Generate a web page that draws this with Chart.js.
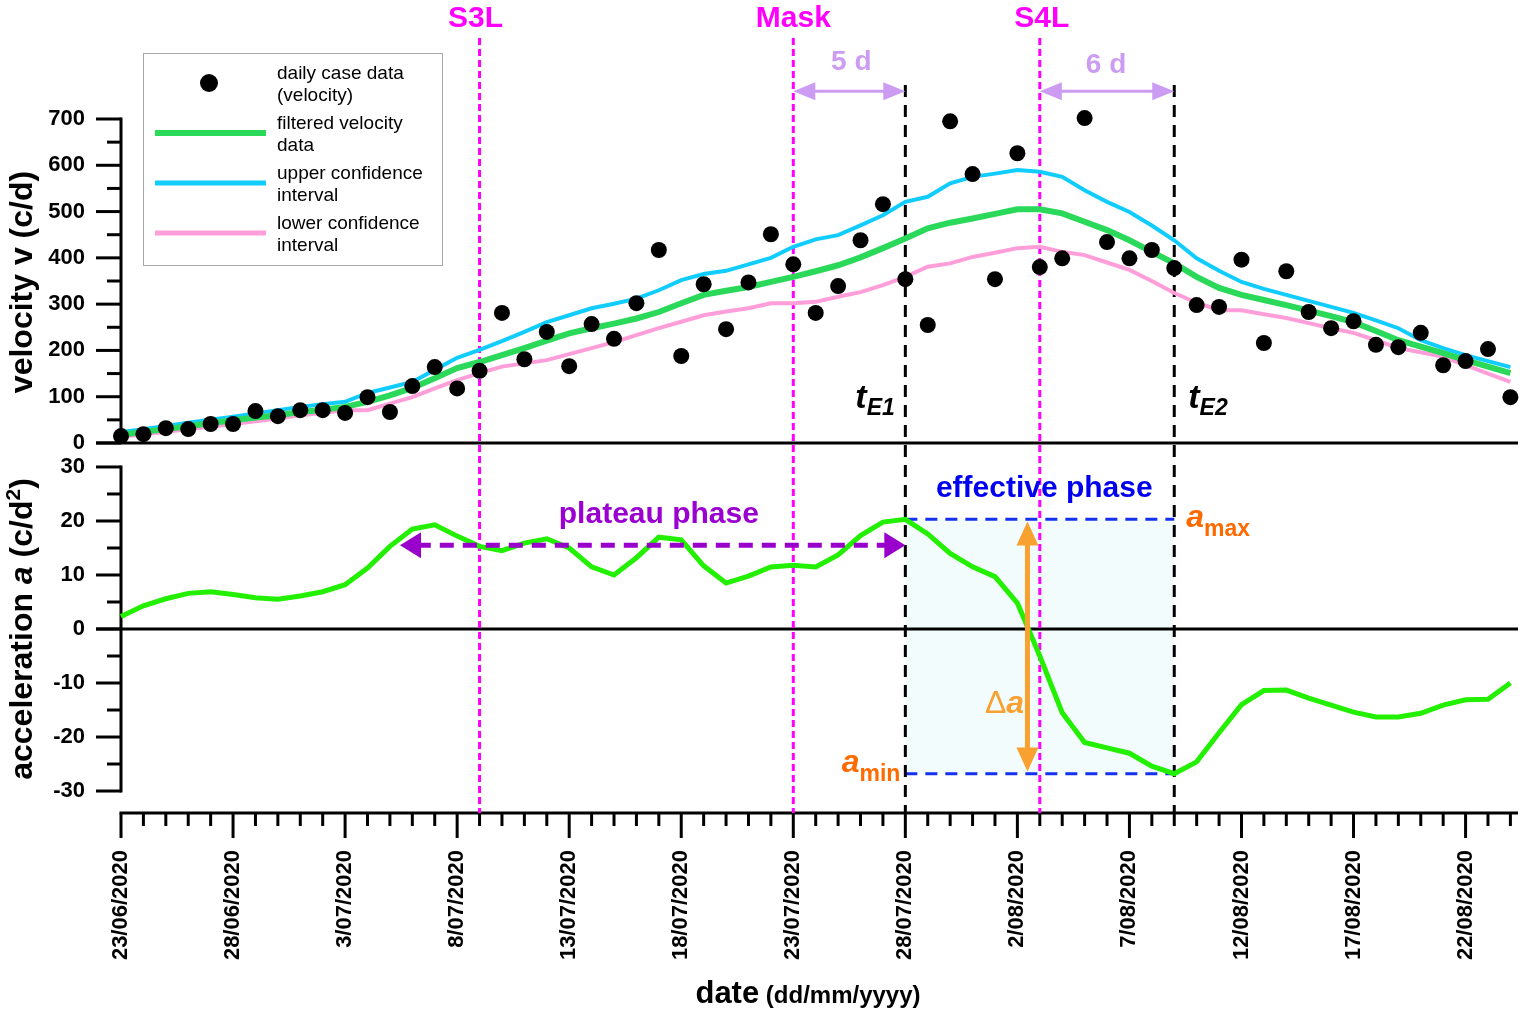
<!DOCTYPE html>
<html>
<head>
<meta charset="utf-8">
<script src="https://cdn.jsdelivr.net/npm/chart.js@4.4.1/dist/chart.umd.min.js"></script>
<style>
  html, body { margin: 0; padding: 0; background: #fff; }
  #wrap { width: 1524px; height: 1013px; }
</style>
</head>
<body>
<div id="wrap"><canvas id="myChart"></canvas></div>
<script>
const FONT = '"Liberation Sans", Arial, sans-serif'

/* DATA (x = days since 23/06/2020) */
const days = Array.from({ length: 63 }, (_, i) => i)

const dailyCases = [15, 19, 32, 30, 41, 41, 69, 58, 71, 71,
  65, 99, 67, 123, 164, 118, 156, 281, 181, 240,
  166, 257, 225, 302, 417, 188, 343, 246, 347, 451,
  386, 281, 339, 438, 516, 354, 255, 695, 581, 354,
  626, 380, 399, 702, 434, 399, 417, 378, 298, 294,
  396, 216, 371, 283, 248, 263, 212, 207, 238, 168,
  177, 203, 99]

const filteredV = [18, 24, 30, 36, 43, 49, 55, 60, 67, 72,
  78, 89, 103, 119, 140, 162, 175, 190, 205, 221,
  237, 248, 258, 269, 283, 302, 320, 329, 337, 348,
  359, 371, 384, 401, 421, 442, 464, 476, 485, 495,
  505, 505, 496, 478, 460, 438, 413, 388, 359, 335,
  320, 309, 298, 286, 274, 261, 242, 222, 208, 194,
  179, 165, 151]

const upperCI = [24, 30, 37, 44, 50, 57, 64, 71, 78, 84,
  89, 108, 120, 132, 158, 184, 201, 220, 240, 261,
  276, 291, 301, 312, 330, 352, 365, 372, 386, 400,
  424, 440, 449, 470, 492, 521, 532, 561, 575, 582,
  590, 586, 575, 546, 521, 499, 470, 438, 399, 372,
  348, 333, 320, 307, 294, 281, 265, 248, 222, 205,
  190, 177, 164]

const lowerCI = [13, 19, 24, 30, 35, 41, 47, 53, 60, 65,
  71, 71, 85, 99, 118, 136, 151, 165, 172, 179,
  192, 205, 218, 233, 248, 262, 276, 284, 291, 302,
  302, 305, 316, 326, 341, 359, 381, 388, 402, 411,
  421, 424, 413, 406, 390, 374, 350, 324, 303, 287,
  287, 278, 270, 259, 248, 238, 222, 205, 196, 186,
  168, 150, 132]

const acceleration = [2.3, 4.3, 5.6, 6.6, 6.9, 6.4, 5.8, 5.5, 6.1, 6.9,
  8.2, 11.3, 15.3, 18.5, 19.3, 17.2, 15.3, 14.5, 15.9, 16.7,
  15.0, 11.5, 10.0, 13.2, 17.0, 16.5, 11.7, 8.5, 9.8, 11.5,
  11.8, 11.5, 13.7, 17.3, 19.8, 20.3, 17.6, 14.0, 11.5, 9.7,
  4.8, -5.0, -15.5, -21.0, -22.0, -23.0, -25.4, -26.8, -24.6, -19.2,
  -14.0, -11.4, -11.3, -12.8, -14.1, -15.4, -16.3, -16.3, -15.6, -14.1,
  -13.1, -13.0, -10.0]

const vTickValues = [0, 50, 100, 150, 200, 250, 300, 350, 400, 450, 500, 550, 600, 650, 700]
const aTickValues = [-30, -25, -20, -15, -10, -5, 0, 5, 10, 15, 20, 25, 30]
const xTickValues = [0, 5, 10, 15, 20, 25, 30, 35, 40, 45, 50, 55, 60]
const xTickLabels = ['23/06/2020', '28/06/2020', '3/07/2020', '8/07/2020', '13/07/2020',
  '18/07/2020', '23/07/2020', '28/07/2020', '2/08/2020', '7/08/2020',
  '12/08/2020', '17/08/2020', '22/08/2020']

// interventions and effective-phase marks (day index / acceleration)
const dayS3L = 16, dayMask = 30, dayS4L = 41
const tE1 = 35, tE2 = 47
const aMax = 20.3, aMin = -26.8

const pts = arr => arr.map((y, i) => ({ x: days[i], y }))

/* DRAW HELPERS */
function line(ctx, x1, y1, x2, y2, color, w, dash) {
  ctx.save()
  ctx.beginPath()
  ctx.strokeStyle = color
  ctx.lineWidth = w
  ctx.setLineDash(dash || [])
  ctx.moveTo(x1, y1)
  ctx.lineTo(x2, y2)
  ctx.stroke()
  ctx.restore()
}

function head(ctx, tx, ty, ang, len, hw, color) {
  ctx.save()
  ctx.translate(tx, ty)
  ctx.rotate(ang)
  ctx.beginPath()
  ctx.moveTo(0, 0)
  ctx.lineTo(-len, -hw)
  ctx.lineTo(-len, hw)
  ctx.closePath()
  ctx.fillStyle = color
  ctx.fill()
  ctx.restore()
}

function dblArrow(ctx, x1, y1, x2, y2, color, w, len, hw, dash) {
  const ang = Math.atan2(y2 - y1, x2 - x1), c = Math.cos(ang), s = Math.sin(ang)
  line(ctx, x1 + c * len * 0.8, y1 + s * len * 0.8, x2 - c * len * 0.8, y2 - s * len * 0.8, color, w, dash)
  head(ctx, x2, y2, ang, len, hw, color)
  head(ctx, x1, y1, ang + Math.PI, len, hw, color)
}

function rich(ctx, segs, x, y, align) {
  let total = 0
  segs.forEach(s => { ctx.font = s.f; s.w = ctx.measureText(s.t).width; total += s.w })
  let cx = align === 'center' ? x - total / 2 : align === 'right' ? x - total : x
  ctx.textAlign = 'left'
  ctx.textBaseline = 'alphabetic'
  segs.forEach(s => {
    ctx.font = s.f
    ctx.fillStyle = s.c || '#000'
    ctx.fillText(s.t, cx, y + (s.dy || 0))
    cx += s.w
  })
}

const f = (style, size) => style + ' ' + size + 'px ' + FONT

/* ANNOTATIONS, AXES, LEGEND */
const overlay = {
  id: 'overlay',
  beforeDatasetsDraw(chart) {
    const { ctx, chartArea: ca, scales: { x, yv, ya } } = chart
    const X = d => x.getPixelForValue(d), V = v => yv.getPixelForValue(v), A = a => ya.getPixelForValue(a)

    // effective phase box
    ctx.fillStyle = '#f2fcfc'
    ctx.fillRect(X(tE1), A(aMax), X(tE2) - X(tE1), A(aMin) - A(aMax))

    // axes
    line(ctx, ca.left, V(700) - 1.5, ca.left, V(0), '#000', 3)
    line(ctx, ca.left - 25, V(0), ca.right + 2, V(0), '#000', 3)
    line(ctx, ca.left, A(30) - 1.5, ca.left, A(-30) + 1.5, '#000', 3)
    line(ctx, ca.left - 25, A(0), ca.right + 2, A(0), '#000', 3)
    line(ctx, ca.left - 1.5, ca.bottom, ca.right + 2, ca.bottom, '#000', 3)
    yv.ticks.forEach(t => {
      const y = V(t.value)
      line(ctx, ca.left - (t.value % 100 === 0 ? 25 : 14), y, ca.left, y, '#000', 3)
    })
    ya.ticks.forEach(t => {
      const y = A(t.value)
      line(ctx, ca.left - (t.value % 10 === 0 ? 25 : 14), y, ca.left, y, '#000', 3)
    })
    days.forEach(d => {
      line(ctx, X(d), ca.bottom, X(d), ca.bottom + (d % 5 === 0 ? 25 : 13), '#000', 3)
    })

    // effective phase bounds
    line(ctx, X(tE1), A(aMax), X(tE2), A(aMax), '#1530ee', 3, [12, 8])
    line(ctx, X(tE1), A(aMin), X(tE2), A(aMin), '#1530ee', 3, [12, 8])

    // event lines
    ;[dayS3L, dayMask, dayS4L].forEach(d => line(ctx, X(d), 38, X(d), ca.bottom, '#ff00ff', 3, [7, 4]))
    ;[tE1, tE2].forEach(d => line(ctx, X(d), 85, X(d), ca.bottom, '#000', 3, [12, 8]))
  },
  afterDatasetsDraw(chart) {
    const { ctx, scales: { x, yv, ya } } = chart
    const X = d => x.getPixelForValue(d), V = v => yv.getPixelForValue(v), A = a => ya.getPixelForValue(a)

    // event labels
    const mag = '#ff00ff'
    rich(ctx, [{ t: 'S3L', f: f('bold', 30), c: mag }], X(dayS3L) - 4, 27, 'center')
    rich(ctx, [{ t: 'Mask', f: f('bold', 30), c: mag }], X(dayMask), 27, 'center')
    rich(ctx, [{ t: 'S4L', f: f('bold', 30), c: mag }], X(dayS4L) + 2, 27, 'center')

    // delay arrows
    const lil = '#cc9cf2'
    dblArrow(ctx, X(dayMask), V(760), X(tE1), V(760), lil, 3, 22, 9)
    dblArrow(ctx, X(dayS4L), V(760), X(tE2), V(760), lil, 3, 22, 9)
    rich(ctx, [{ t: '5 d', f: f('bold', 28), c: lil }], (X(dayMask) + X(tE1)) / 2 + 2, 70, 'center')
    rich(ctx, [{ t: '6 d', f: f('bold', 28), c: lil }], (X(dayS4L) + X(tE2)) / 2 - 1, 73, 'center')

    // tE labels
    rich(ctx, [{ t: 't', f: f('italic bold', 34) }, { t: 'E1', f: f('italic bold', 23), dy: 7 }], X(tE1) - 50, V(75), 'left')
    rich(ctx, [{ t: 't', f: f('italic bold', 34) }, { t: 'E2', f: f('italic bold', 23), dy: 7 }], X(tE2) + 14, V(75), 'left')

    // phases
    dblArrow(ctx, X(12.45), A(15.5), X(tE1), A(15.5), '#9900cc', 5, 21, 13, [14, 9])
    rich(ctx, [{ t: 'plateau phase', f: f('bold', 30), c: '#9a00cf' }], X(24), A(19.6), 'center')
    rich(ctx, [{ t: 'effective phase', f: f('bold', 30), c: '#0000ee' }], X(41.2), A(24.4), 'center')

    // delta a
    const org = '#f8a030', org2 = '#ff6a00'
    dblArrow(ctx, X(40.45), A(aMax - 0.4), X(40.45), A(aMin + 0.4), org, 5, 24, 11)
    rich(ctx, [{ t: '\u0394', f: f('normal', 32), c: org }, { t: 'a', f: f('italic bold', 32), c: org }], X(40.3), A(-15.5), 'right')
    rich(ctx, [{ t: 'a', f: f('italic bold', 32), c: org2 }, { t: 'max', f: f('bold', 23), c: org2, dy: 9 }], X(tE2) + 12, A(18.9), 'left')
    rich(ctx, [{ t: 'a', f: f('italic bold', 32), c: org2 }, { t: 'min', f: f('bold', 23), c: org2, dy: 9 }], X(tE1) - 5, A(-26.5), 'right')

    // legend
    ctx.fillStyle = '#fff'
    ctx.fillRect(143, 53, 299, 212)
    ctx.strokeStyle = '#a8a8a8'
    ctx.lineWidth = 1
    ctx.strokeRect(143.5, 53.5, 299, 212)
    ctx.beginPath()
    ctx.arc(209, 83, 9, 0, Math.PI * 2)
    ctx.fillStyle = '#000'
    ctx.fill()
    line(ctx, 155, 133, 266, 133, '#2bd95a', 6)
    line(ctx, 155, 183, 266, 183, '#11ccff', 5)
    line(ctx, 155, 233, 266, 233, '#ff9ed8', 5)
    const legendLines = ['daily case data', '(velocity)', 'filtered velocity', 'data',
      'upper confidence', 'interval', 'lower confidence', 'interval']
    const legendY = [79, 101, 129, 151, 179, 201, 229, 251]
    legendLines.forEach((t, i) => rich(ctx, [{ t, f: f('normal', 19) }], 277, legendY[i], 'left'))

    // axis titles
    ctx.save()
    ctx.translate(32, (V(0) + V(700)) / 2 + 1)
    ctx.rotate(-Math.PI / 2)
    rich(ctx, [{ t: 'velocity v (c/d)', f: f('bold', 32) }], 0, 0, 'center')
    ctx.restore()
    ctx.save()
    ctx.translate(32, A(0))
    ctx.rotate(-Math.PI / 2)
    rich(ctx, [{ t: 'acceleration ', f: f('bold', 32) }, { t: 'a', f: f('italic bold', 32) },
      { t: ' (c/d', f: f('bold', 32) }, { t: '2', f: f('bold', 21), dy: -12 }, { t: ')', f: f('bold', 32) }], 0, 0, 'center')
    ctx.restore()
    rich(ctx, [{ t: 'date', f: f('bold', 31) }, { t: ' (dd/mm/yyyy)', f: f('bold', 24) }], 808, 1003, 'center')
  }
}

const tickFont = { family: FONT, size: 22, weight: 'bold' }
const hiddenGrid = { display: true, drawOnChartArea: false, drawTicks: true, tickLength: 25, color: 'rgba(0,0,0,0)' }

const ctx = document.getElementById('myChart').getContext('2d')
const myChart = new Chart(ctx, {
  type: 'line',
  data: {
    datasets: [{
      label: 'daily case data (velocity)',
      data: pts(dailyCases),
      yAxisID: 'yv',
      showLine: false,
      pointRadius: 8,
      pointBackgroundColor: '#000',
      pointBorderWidth: 0,
      clip: false
    }, {
      label: 'filtered velocity data',
      data: pts(filteredV),
      yAxisID: 'yv',
      borderColor: '#2bd95a',
      borderWidth: 6,
      pointRadius: 0
    }, {
      label: 'upper confidence interval',
      data: pts(upperCI),
      yAxisID: 'yv',
      borderColor: '#11ccff',
      borderWidth: 4,
      pointRadius: 0
    }, {
      label: 'lower confidence interval',
      data: pts(lowerCI),
      yAxisID: 'yv',
      borderColor: '#ff9ed8',
      borderWidth: 4,
      pointRadius: 0
    }, {
      label: 'acceleration',
      data: pts(acceleration),
      yAxisID: 'ya',
      borderColor: '#22f000',
      borderWidth: 5,
      pointRadius: 0,
      clip: false
    }]
  },
  options: {
    responsive: true,
    maintainAspectRatio: false,
    animation: false,
    layout: { padding: { top: 119, left: 0, right: 6, bottom: 50 } },
    plugins: { legend: { display: false }, tooltip: { enabled: false } },
    scales: {
      x: {
        type: 'linear',
        min: 0,
        max: 62.25,
        border: { display: false },
        grid: hiddenGrid,
        afterBuildTicks: s => { s.ticks = xTickValues.map(value => ({ value })) },
        afterFit: s => { s.height = 150 },
        ticks: {
          autoSkip: false,
          minRotation: 90,
          maxRotation: 90,
          padding: 12,
          color: '#000',
          font: tickFont,
          callback: v => xTickLabels[xTickValues.indexOf(v)] ?? ''
        }
      },
      ya: {
        type: 'linear',
        position: 'left',
        stack: 'panels',
        stackWeight: 370,
        min: -34.07,
        max: 34.44,
        border: { display: false },
        grid: hiddenGrid,
        afterBuildTicks: s => { s.ticks = aTickValues.map(value => ({ value })) },
        afterFit: s => { s.width = 121 },
        ticks: { autoSkip: false, padding: 11, color: '#000', font: tickFont, callback: v => v % 10 === 0 ? v : '' }
      },
      yv: {
        type: 'linear',
        position: 'left',
        stack: 'panels',
        stackWeight: 324,
        min: 0,
        max: 700,
        border: { display: false },
        grid: hiddenGrid,
        afterBuildTicks: s => { s.ticks = vTickValues.map(value => ({ value })) },
        afterFit: s => { s.width = 121 },
        ticks: { autoSkip: false, padding: 11, color: '#000', font: tickFont, callback: v => v % 100 === 0 ? v : '' }
      }
    }
  },
  plugins: [overlay]
})
</script>
</body>
</html>
